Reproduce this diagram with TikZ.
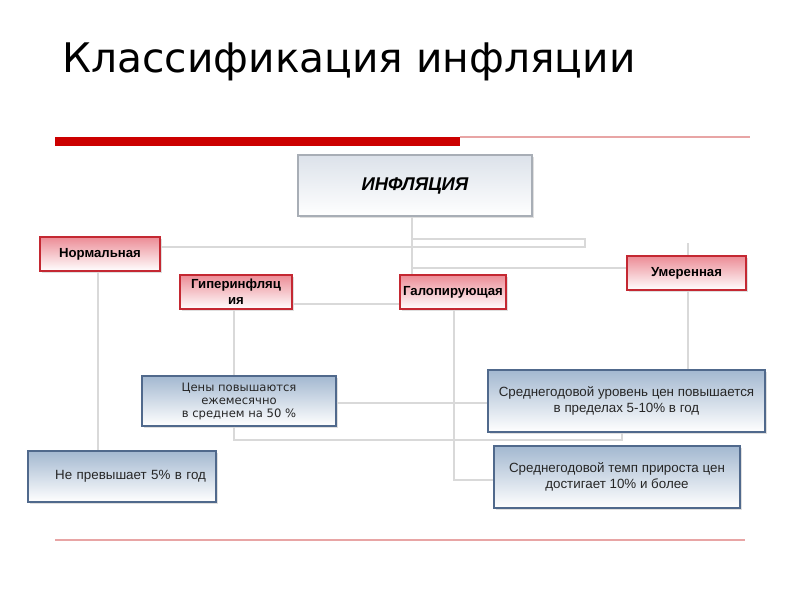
\documentclass[tikz,border=0pt]{standalone}
\usepackage{fontspec}
\setmainfont{Liberation Sans}
\newfontfamily\titlefont{DejaVu Sans}
\usetikzlibrary{shadows}
\definecolor{barred}{RGB}{204,0,0}
\definecolor{rulered}{RGB}{232,165,165}
\definecolor{redline}{RGB}{196,40,50}
\definecolor{redtop}{RGB}{236,140,150}
\definecolor{bluetop}{RGB}{163,184,208}
\definecolor{blueline}{RGB}{80,105,140}
\definecolor{grayline}{RGB}{168,174,182}
\definecolor{graytop}{RGB}{220,226,234}
\tikzset{
  wh/.style 2 args={minimum width=#1*0.02cm, minimum height=#2*0.02cm},
  box/.style={inner sep=1pt, align=center, text=black!85,
    drop shadow={shadow xshift=1.2pt, shadow yshift=-1.2pt, opacity=.25}},
  topbox/.style={box, draw=grayline, line width=.8pt, top color=graytop, bottom color=white,
    font=\bfseries\itshape\fontsize{10.5}{12}\selectfont, text=black},
  kindbox/.style={box, draw=redline, line width=.8pt, top color=redtop, bottom color=white,
    font=\bfseries\fontsize{7.5}{9.2}\selectfont, text=black},
  notebox/.style={box, draw=blueline, line width=.8pt, top color=bluetop, bottom color=white,
    font=\fontsize{7.6}{9}\selectfont},
  link/.style={draw=gray!30, line width=1.4pt}
}
\begin{document}
\begin{tikzpicture}[x=0.02cm,y=-0.02cm]
\useasboundingbox (0,0) rectangle (800,600);
\node[anchor=base west, inner sep=0, font=\titlefont\fontsize{23.2}{28}\selectfont] (title) at (62,72) {Классификация инфляции};
\fill[barred] (55,137) rectangle (460,146);
\draw[rulered, line width=.8pt] (460,137) -- (750,137);
\draw[rulered, line width=.8pt] (55,540) -- (745,540);

\node[topbox,  wh={234}{61}] (infl)  at (415,185.5) {ИНФЛЯЦИЯ};
\node[kindbox, wh={120}{34}] (norm)  at (100,254)   {Нормальная};
\node[kindbox, wh={112}{34}] (hyper) at (236,292)   {Гиперинфляц\\ия};
\node[kindbox, wh={106}{34}] (galop) at (453,292)   {Галопирующая};
\node[kindbox, wh={119}{34}] (umer)  at (686.5,273) {Умеренная};

\node[notebox, wh={194}{50}, font=\titlefont\fontsize{6.6}{7.4}\selectfont] (hypernote) at (239,401) {Цены повышаются\\ежемесячно\\в среднем на 50 \%};
\node[notebox, wh={277}{62}] (umernote)  at (626.5,401) {Среднегодовой уровень цен повышается\\в пределах 5-10\% в год};
\node[notebox, wh={188}{51}, text width=168*0.02cm, align=right] (normnote) at (122,476.5) {Не превышает 5\% в год};
\node[notebox, wh={246}{62}] (galopnote) at (617,477) {Среднегодовой темп прироста цен\\достигает 10\% и более};

\draw[link] (infl.south -| 412,0) -- (galop.north -| 412,0);
\draw[link] (412,239) -| (585,247) -- (norm.east |- 0,247);
\draw[link] (412,268) -- (umer.west |- 0,268);
\draw[link] (688,243) -- (umer.north -| 688,0);
\draw[link] (umer.south -| 688,0) -- (umernote.north -| 688,0);
\draw[link] (norm.south -| 98,0) -- (normnote.north -| 98,0);
\draw[link] (hyper.south -| 234,0) -- (hypernote.north -| 234,0);
\draw[link] (hypernote.south -| 234,0) -- (234,440) -| (umernote.south -| 622,0);
\draw[link] (hyper.east |- 0,304) -- (galop.west |- 0,304);
\draw[link] (hypernote.east |- 0,403) -- (umernote.west |- 0,403);
\draw[link] (galop.south -| 454,0) |- (galopnote.west |- 0,480);
\end{tikzpicture}
\end{document}
